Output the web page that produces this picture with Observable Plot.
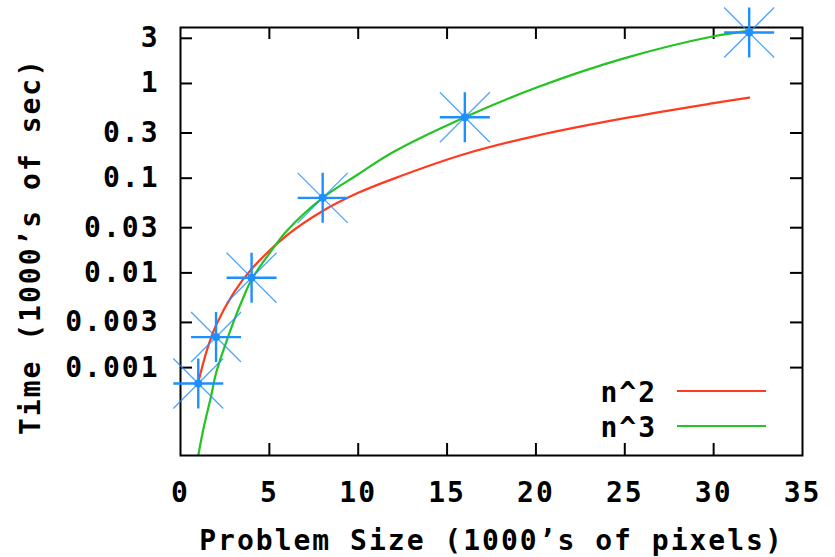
<!DOCTYPE html>
<html>
<head>
<meta charset="utf-8">
<script src="https://cdn.jsdelivr.net/npm/d3@7"></script>
<script src="https://cdn.jsdelivr.net/npm/@observablehq/plot@0.6"></script>
<style>
  html, body { margin: 0; padding: 0; background: #fff; }
  #chart svg { display: block; }
</style>
</head>
<body>
<div id="chart"></div>
<script>
// Measured points (blue stars)
const sizes = [1, 2, 4, 8, 16, 32];
const times = [0.00068, 0.0021, 0.0089, 0.062, 0.44, 3.45];

// Fitted curve n^2
const n2X = [1, 1.5, 2, 3, 4, 6, 8, 10, 12, 16, 20, 25, 30, 32];
const n2Y = [0.0007, 0.00156, 0.0028, 0.0062, 0.011, 0.025, 0.045, 0.07, 0.099, 0.18, 0.28, 0.43, 0.62, 0.71];

// Fitted curve n^3
const n3X = [1.0, 1.3, 1.7, 2, 2.5, 3, 3.5, 4, 5, 6, 8, 10, 12, 16, 20, 25, 30, 32];
const n3Y = [0.000118, 0.00023, 0.00048, 0.00087, 0.0017, 0.0031, 0.0053, 0.0085, 0.016, 0.028, 0.062, 0.11, 0.19, 0.44, 0.9, 1.85, 3.15, 3.6];

const xTicks = [0, 5, 10, 15, 20, 25, 30, 35];
const yTicks = [0.001, 0.003, 0.01, 0.03, 0.1, 0.3, 1, 3];
const yTickLabels = ["0.001", "0.003", "0.01", "0.03", "0.1", "0.3", "1", "3"];

const seriesNames = ["n^2", "n^3"];
const seriesColors = ["#ff3b1f", "#22c322"];
const pointColor = "#1e8fff";

const xTitle = "Problem Size (1000’s of pixels)";
const yTitle = "Time (1000’s of sec)";

const n2 = n2X.map((x, i) => ({x, y: n2Y[i]}));
const n3 = n3X.map((x, i) => ({x, y: n3Y[i]}));
const pts = sizes.map((x, i) => ({x, y: times[i]}));

const W = 835, H = 557;
const mL = 180, mR = 33, mT = 27, mB = 102;
const pw = W - mL - mR, ph = H - mT - mB;
const tickLen = 12;

const plusSym = {draw(ctx, size) {
  const r = Math.sqrt(size / Math.PI);
  ctx.moveTo(-r, 0); ctx.lineTo(r, 0);
  ctx.moveTo(0, -r); ctx.lineTo(0, r);
}};
const timesSym = {draw(ctx, size) {
  const r = Math.sqrt(size / Math.PI);
  ctx.moveTo(-r, -r); ctx.lineTo(r, r);
  ctx.moveTo(-r, r); ctx.lineTo(r, -r);
}};

const fontFamily = "'DejaVu Sans Mono', monospace";

function legendMark(index, scales, values, dimensions) {
  const g = d3.create("svg:g");
  const right = dimensions.width - dimensions.marginRight;
  const bottom = dimensions.height - dimensions.marginBottom;
  seriesNames.forEach((name, i) => {
    const yy = bottom - 63 + i * 35;
    g.append("text")
      .attr("x", right - 145).attr("y", yy).attr("dy", "0.35em")
      .attr("text-anchor", "end")
      .attr("font-family", fontFamily).attr("font-weight", "bold")
      .attr("font-size", 28).attr("letter-spacing", "2px")
      .attr("fill", "#000")
      .text(name);
    g.append("line")
      .attr("x1", right - 125).attr("x2", right - 36)
      .attr("y1", yy - 1).attr("y2", yy - 1)
      .attr("stroke", seriesColors[i]).attr("stroke-width", 2.2);
  });
  return g.node();
}

const chart = Plot.plot({
  width: W, height: H,
  marginLeft: mL, marginRight: mR, marginTop: mT, marginBottom: mB,
  style: {fontFamily, fontWeight: "bold", fontSize: "28px", letterSpacing: "2px", background: "#fff", color: "#000"},
  x: {domain: [0, 35]},
  y: {type: "log", domain: [0.000118, 3.9]},
  marks: [
    Plot.axisX(xTicks, {tickSize: 0, tickPadding: 27, label: null, fontSize: 28}),
    Plot.axisY(yTicks, {tickSize: 0, tickPadding: 21, label: null, fontSize: 28,
      tickFormat: (d) => yTickLabels[yTicks.indexOf(d)]}),
    Plot.tickX(xTicks.slice(1, -1), {x: d => d, insetTop: ph - tickLen, stroke: "#000", strokeWidth: 2}),
    Plot.tickX(xTicks.slice(1, -1), {x: d => d, insetBottom: ph - tickLen, stroke: "#000", strokeWidth: 2}),
    Plot.tickY(yTicks, {y: d => d, insetRight: pw - tickLen, stroke: "#000", strokeWidth: 2}),
    Plot.tickY(yTicks, {y: d => d, insetLeft: pw - tickLen, stroke: "#000", strokeWidth: 2}),
    Plot.line(n2, {x: "x", y: "y", stroke: seriesColors[0], strokeWidth: 2.2, curve: "catmull-rom", clip: true}),
    Plot.line(n3, {x: "x", y: "y", stroke: seriesColors[1], strokeWidth: 2.2, curve: "catmull-rom", clip: true}),
    Plot.frame({stroke: "#000", strokeWidth: 2}),
    Plot.dot(pts, {x: "x", y: "y", symbol: timesSym, r: 25, stroke: pointColor, strokeWidth: 1.3, fill: "none", strokeOpacity: 0.8}),
    Plot.dot(pts, {x: "x", y: "y", symbol: plusSym, r: 25, stroke: pointColor, strokeWidth: 2.4, fill: "none"}),
    Plot.dot(pts, {x: "x", y: "y", r: 4, fill: pointColor, stroke: "none"}),
    Plot.text([xTitle], {text: d => d, frameAnchor: "bottom", dy: 94, fontSize: 28}),
    Plot.text([yTitle], {text: d => d, frameAnchor: "left", textAnchor: "middle", dx: -149, dy: 5, rotate: -90, fontSize: 28}),
    legendMark
  ]
});
document.getElementById("chart").appendChild(chart);
</script>
</body>
</html>
